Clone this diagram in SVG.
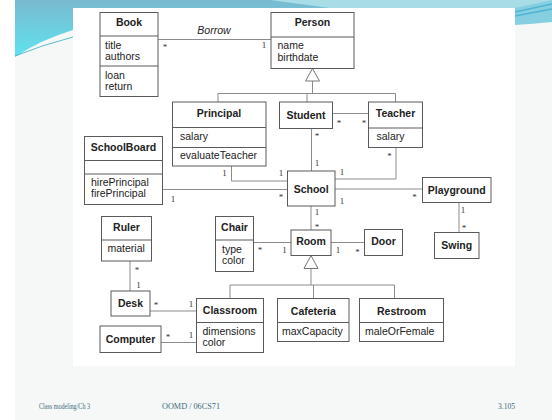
<svg xmlns="http://www.w3.org/2000/svg" width="552" height="420" viewBox="0 0 552 420">
<defs>
<linearGradient id="lband" x1="0" y1="0" x2="0" y2="1">
<stop offset="0" stop-color="#7ab9cf"/>
<stop offset="1" stop-color="#5fe3ef"/>
</linearGradient>
<style>
.box{fill:#fff;stroke:#5a5a5a;stroke-width:1}
.dv{stroke:#5a5a5a;stroke-width:1}
.ln{fill:none;stroke:#8c8c8c;stroke-width:1}
.tri{fill:#fff;stroke:#777;stroke-width:1}
.t{font-family:"Liberation Sans",Arial,sans-serif;font-size:10.5px;fill:#222}
.b{font-weight:bold;text-anchor:middle}
.m{font-family:"Liberation Serif","Times New Roman",serif;font-size:9px;fill:#333;text-anchor:middle}
.f{font-family:"Liberation Serif","Times New Roman",serif;font-size:8px;fill:#3d6c7c}
</style>
</defs>
<rect x="0" y="0" width="552" height="420" fill="#fff"/>
<rect x="15" y="0" width="537" height="420" fill="#f6f7f7"/>
<path d="M15,0 L552,0 L552,8 L73,8 L73,30 Q40,40 15,57 Z" fill="url(#lband)"/>
<path d="M270,0 L552,0 L552,8 L330,8 Q300,4 270,0 Z" fill="#a8dde8"/>
<path d="M515,8 L552,0 L552,22 Q532,24 515,25 Z" fill="#86cfe0"/>
<path d="M515,12 L552,4 M515,16 L552,9" stroke="#4fb4d2" stroke-width="1.5"/>
<path d="M15,56 Q42,45 73,37" fill="none" stroke="#2fb0c0" stroke-width="0.8"/>
<rect x="73" y="8" width="442" height="358" fill="#fff"/>

<g id="connectors">
<line class="ln" x1="158" y1="39.5" x2="271" y2="39.5"/>
<polyline class="ln" points="312.5,81 312.5,93.5"/>
<polyline class="ln" points="218,102 218,93.5 395.5,93.5 395.5,102"/>
<line class="ln" x1="307" y1="93.5" x2="307" y2="102"/>
<line class="ln" x1="332.5" y1="113.5" x2="368.5" y2="113.5"/>
<line class="ln" x1="311.5" y1="128.5" x2="311.5" y2="171"/>
<polyline class="ln" points="396,147.5 396,179 335,179"/>
<line class="ln" x1="335" y1="189" x2="422.5" y2="189"/>
<line class="ln" x1="459" y1="202.5" x2="459" y2="232.5"/>
<polyline class="ln" points="231.5,166 231.5,181 287.5,181"/>
<line class="ln" x1="162.5" y1="189.5" x2="287.5" y2="189.5"/>
<line class="ln" x1="311" y1="205.5" x2="311" y2="230"/>
<line class="ln" x1="331" y1="242.5" x2="364.5" y2="242.5"/>
<line class="ln" x1="253.5" y1="242.5" x2="291" y2="242.5"/>
<line class="ln" x1="311" y1="268.5" x2="311" y2="285"/>
<polyline class="ln" points="230,298.5 230,285 394.5,285 394.5,298.5"/>
<line class="ln" x1="313.5" y1="285" x2="313.5" y2="298.5"/>
<line class="ln" x1="130" y1="261" x2="130" y2="291"/>
<line class="ln" x1="150" y1="311" x2="196.5" y2="311"/>
<line class="ln" x1="161" y1="342.5" x2="196.5" y2="342.5"/>
<polygon class="tri" points="312.5,68.5 305.5,81 319.5,81"/>
<polygon class="tri" points="311,255.5 304,268.5 318,268.5"/>
<text class="t" x="214" y="34" text-anchor="middle" font-style="italic">Borrow</text>
<text class="m" x="165" y="50">*</text>
<text class="m" x="264" y="48">1</text>
<text class="m" x="339" y="126">*</text>
<text class="m" x="364" y="126">*</text>
<text class="m" x="317" y="139">*</text>
<text class="m" x="317" y="166">1</text>
<text class="m" x="389.5" y="159">*</text>
<text class="m" x="342" y="175">1</text>
<text class="m" x="342" y="204">1</text>
<text class="m" x="414.5" y="200">*</text>
<text class="m" x="463" y="213">1</text>
<text class="m" x="464" y="231">*</text>
<text class="m" x="224.5" y="176">1</text>
<text class="m" x="281" y="176">1</text>
<text class="m" x="173" y="202">1</text>
<text class="m" x="281" y="200">*</text>
<text class="m" x="317" y="215">1</text>
<text class="m" x="317" y="230">*</text>
<text class="m" x="338" y="253">1</text>
<text class="m" x="357.5" y="255">*</text>
<text class="m" x="260" y="253">*</text>
<text class="m" x="284.5" y="253">1</text>
<text class="m" x="137" y="272.5">*</text>
<text class="m" x="138.5" y="287.5">1</text>
<text class="m" x="156" y="308">*</text>
<text class="m" x="191" y="306.5">1</text>
<text class="m" x="168" y="340">*</text>
<text class="m" x="191" y="338">1</text>
</g>

<g id="Book">
<rect class="box" x="100" y="12.5" width="58" height="84"/>
<line class="dv" x1="100" y1="36" x2="158" y2="36"/>
<line class="dv" x1="100" y1="66" x2="158" y2="66"/>
<text class="t b" x="129" y="26">Book</text>
<text class="t" x="105" y="48.5">title</text>
<text class="t" x="105" y="60">authors</text>
<text class="t" x="105" y="78.5">loan</text>
<text class="t" x="105" y="89.5">return</text>
</g>
<g id="Person">
<rect class="box" x="271" y="12.5" width="83" height="56"/>
<line class="dv" x1="271" y1="37" x2="354" y2="37"/>
<text class="t b" x="312.5" y="26">Person</text>
<text class="t" x="277.5" y="48.5">name</text>
<text class="t" x="277.5" y="60.5">birthdate</text>
</g>
<g id="Principal">
<rect class="box" x="172.5" y="102" width="93.5" height="64"/>
<line class="dv" x1="172.5" y1="127.5" x2="266" y2="127.5"/>
<line class="dv" x1="172.5" y1="147.5" x2="266" y2="147.5"/>
<text class="t b" x="219" y="117">Principal</text>
<text class="t" x="180" y="140">salary</text>
<text class="t" x="180" y="159">evaluateTeacher</text>
</g>
<g id="Student">
<rect class="box" x="279.5" y="102" width="53" height="26.5"/>
<text class="t b" x="306" y="118.5">Student</text>
</g>
<g id="Teacher">
<rect class="box" x="368.5" y="102" width="54" height="45.5"/>
<line class="dv" x1="368.5" y1="128" x2="422.5" y2="128"/>
<text class="t b" x="395.5" y="117">Teacher</text>
<text class="t" x="376.5" y="140">salary</text>
</g>
<g id="SchoolBoard">
<rect class="box" x="84.5" y="136.5" width="78" height="68"/>
<line class="dv" x1="84.5" y1="160.5" x2="162.5" y2="160.5"/>
<line class="dv" x1="84.5" y1="174" x2="162.5" y2="174"/>
<text class="t b" x="123.5" y="151">SchoolBoard</text>
<text class="t" x="91" y="185.5">hirePrincipal</text>
<text class="t" x="91" y="197">firePrincipal</text>
</g>
<g id="School">
<rect class="box" x="287.5" y="171" width="47.5" height="35"/>
<text class="t b" x="311.2" y="192.5">School</text>
</g>
<g id="Playground">
<rect class="box" x="422.5" y="177.5" width="68.5" height="25"/>
<text class="t b" x="456.7" y="193.5">Playground</text>
</g>
<g id="Swing">
<rect class="box" x="434.5" y="232.5" width="44.5" height="26"/>
<text class="t b" x="456.7" y="248.5">Swing</text>
</g>
<g id="Ruler">
<rect class="box" x="101.5" y="216.5" width="50" height="44.5"/>
<line class="dv" x1="101.5" y1="240" x2="151.5" y2="240"/>
<text class="t b" x="126.5" y="231">Ruler</text>
<text class="t" x="107.5" y="252">material</text>
</g>
<g id="Chair">
<rect class="box" x="215.5" y="216.5" width="38" height="55"/>
<line class="dv" x1="215.5" y1="240" x2="253.5" y2="240"/>
<text class="t b" x="234.5" y="231">Chair</text>
<text class="t" x="222" y="252.5">type</text>
<text class="t" x="222" y="263.5">color</text>
</g>
<g id="Room">
<rect class="box" x="291" y="230" width="40" height="25.5"/>
<text class="t b" x="311" y="245">Room</text>
</g>
<g id="Door">
<rect class="box" x="364.5" y="229.5" width="38" height="26"/>
<text class="t b" x="383.5" y="245">Door</text>
</g>
<g id="Desk">
<rect class="box" x="111" y="291" width="39" height="25"/>
<text class="t b" x="130.5" y="306.5">Desk</text>
</g>
<g id="Computer">
<rect class="box" x="100" y="326" width="61" height="26.5"/>
<text class="t b" x="130.5" y="342.5">Computer</text>
</g>
<g id="Classroom">
<rect class="box" x="196.5" y="298.5" width="67" height="54"/>
<line class="dv" x1="196.5" y1="322.5" x2="263.5" y2="322.5"/>
<text class="t b" x="230" y="314">Classroom</text>
<text class="t" x="202.5" y="334.5">dimensions</text>
<text class="t" x="202.5" y="345.5">color</text>
</g>
<g id="Cafeteria">
<rect class="box" x="277.5" y="298.5" width="71.5" height="43"/>
<line class="dv" x1="277.5" y1="322.5" x2="349" y2="322.5"/>
<text class="t b" x="313.3" y="314.5">Cafeteria</text>
<text class="t" x="282" y="334.5">maxCapacity</text>
</g>
<g id="Restroom">
<rect class="box" x="359.5" y="298.5" width="84" height="43"/>
<line class="dv" x1="359.5" y1="322.5" x2="443.5" y2="322.5"/>
<text class="t b" x="401.5" y="314.5">Restroom</text>
<text class="t" x="365" y="334.5">maleOrFemale</text>
</g>

<g id="footer">
<text class="f" x="39" y="409" textLength="51" lengthAdjust="spacingAndGlyphs">Class modeling/Ch 3</text>
<text class="f" x="162" y="409" textLength="58" lengthAdjust="spacingAndGlyphs">OOMD / 06CS71</text>
<text class="f" x="498" y="409" textLength="17" lengthAdjust="spacingAndGlyphs">3.105</text>
</g>
</svg>
